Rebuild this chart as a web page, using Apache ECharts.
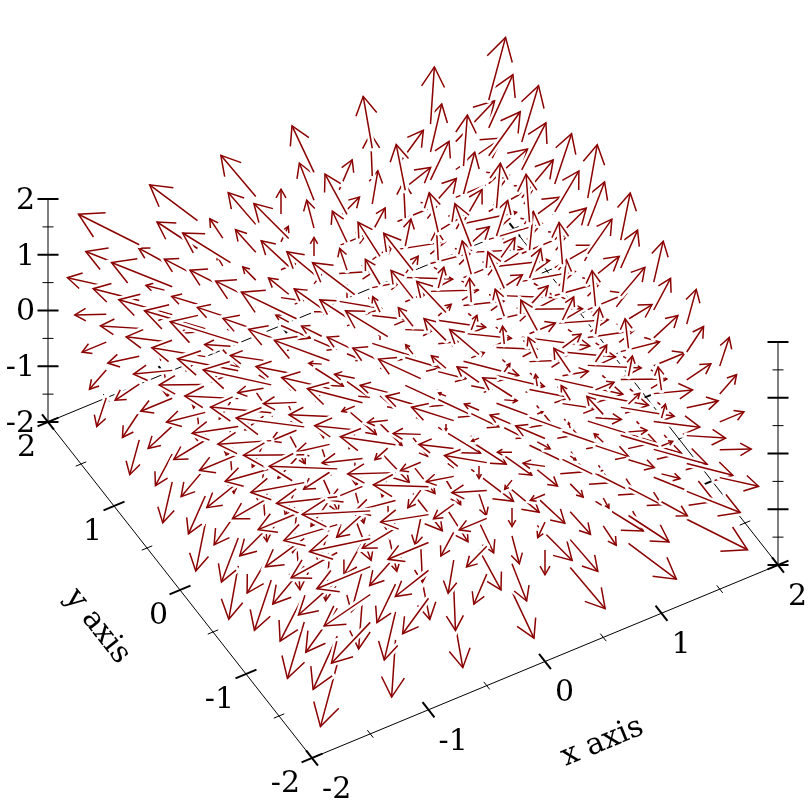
<!DOCTYPE html>
<html><head><meta charset="utf-8">
<style>html,body{margin:0;padding:0;background:#fff}#c{width:812px;height:812px}</style>
<script src="https://cdn.jsdelivr.net/npm/echarts@6/dist/echarts.min.js"></script>
</head><body><div id="c"></div>
<script>
// arrow tail planes (axis units)
const xSamples = [-1.5,-1,-0.5,0,0.5,1,1.5];
const ySamples = [-2,-1.5,-1,-0.5,0,0.5,1,1.5,2];
const zSamples = [-2,-1.5,-1,-0.5,0,0.5,1,1.5,2];
// which y/z sample pairs carry an arrow (rows: y, columns: z); the rest are absent in the picture
const presentRows = [
  '000011111',
  '011111111',
  '011111111',
  '011111111',
  '111111111',
  '111111110',
  '111111110',
  '111111110',
  '111110000'
];
// arrow extent per sample plane (axis units): dx goes with the x plane, dy with the z plane, dz with the y plane
const dxByX = [-0.333,-0.222,-0.111,0,0.111,0.222,0.333];
const dyByZ = [-0.444,-0.333,-0.222,-0.111,0,0.111,0.222,0.333,0.444];
const dzByY = [-0.444,-0.333,-0.222,-0.111,0,0.111,0.222,0.333,0.444];
const majorTicks = [-2,-1,0,1,2];
const minorTicks = [-1.5,-0.5,0.5,1.5];
const tickLabels = ['-2','-1','0','1','2'];

const basisX = [116.5,-66], basisY = [48.25,84,55.75];
const proj = (x,y,z)=>[basisX[0]*x+basisX[1]*y, basisY[0]*x+basisY[1]*y+basisY[2]*z];

const arrows = [];
xSamples.forEach((x,i)=>ySamples.forEach((y,j)=>zSamples.forEach((z,k)=>{
  if(presentRows[j][k]==='1') arrows.push([x,y,z,dxByX[i],dyByZ[k],dzByY[j]]);
})));
const depth = a=>-0.25*(a[0]+a[3]/2)-0.433*(a[1]+a[4]/2)+0.866*(a[2]+a[5]/2);
arrows.sort((a,b)=>depth(a)-depth(b));

const RED='#8b0000';
const HALO=6.5, PEN=1.5;
function renderArrow(p,api){
  const x=api.value(0),y=api.value(1),z=api.value(2),u=api.value(3),v=api.value(4),w=api.value(5);
  const a=api.coord(proj(x,y,z)), b=api.coord(proj(x+u,y+v,z+w));
  const dx=b[0]-a[0],dy=b[1]-a[1],len=Math.hypot(dx,dy);
  if(len<0.5) return {type:'group',children:[]};
  const h=0.4*len, t=Math.atan2(-dy,-dx), s=Math.PI/6;
  const b1=[b[0]+h*Math.cos(t+s),b[1]+h*Math.sin(t+s)], b2=[b[0]+h*Math.cos(t-s),b[1]+h*Math.sin(t-s)];
  const line=(pts,c,lw,cap)=>({type:'polyline',shape:{points:pts},style:{stroke:c,lineWidth:lw,fill:null,lineJoin:'miter',lineCap:cap}});
  return {type:'group',children:[
    line([a,b],'#fff',HALO,'round'),line([b1,b,b2],'#fff',HALO,'round'),
    line([a,b],RED,PEN,'butt'),line([b1,b,b2],RED,PEN,'butt')]};
}

const C=-2,D=2;
const frame=[];
const seg=(p,q,c,w)=>frame.push([...p,...q,c,w]);
seg([C,D,C],[C,D,D],'#808080',2);
seg([D,C,C],[D,C,D],'#808080',2);
seg([C,D,C],[D,D,C],'#000',1);
seg([D,C,C],[D,D,C],'#000',1);
seg([C,C,C],[D,C,C],'#000',1);
seg([C,C,C],[C,D,C],'#000',1);
const tickX=0.09, tickY=0.09;
[[majorTicks,2],[minorTicks,1]].forEach(([list,w])=>{
  const f=w===2?1:0.5;
  list.forEach(t=>{
    [C,D].forEach(y=>seg([t,y-tickY*f,C],[t,y+tickY*f,C],'#000',w));
    [C,D].forEach(x=>seg([x-tickX*f,t,C],[x+tickX*f,t,C],'#000',w));
  });
});
function renderSeg(p,api){
  const a=api.coord(proj(api.value(0),api.value(1),api.value(2)));
  const b=api.coord(proj(api.value(3),api.value(4),api.value(5)));
  return {type:'line',shape:{x1:a[0],y1:a[1],x2:b[0],y2:b[1]},style:{stroke:frame[p.dataIndex][6],lineWidth:frame[p.dataIndex][7]}};
}
const zTicks=[];
[[majorTicks,21,2],[minorTicks,11,1]].forEach(([list,len,w])=>list.forEach(t=>{
  [[C,D],[D,C]].forEach(([x,y])=>zTicks.push([x,y,t,len,w]));
}));
function renderZTick(p,api){
  const a=api.coord(proj(api.value(0),api.value(1),api.value(2)));
  const l=api.value(3)/2;
  return {type:'line',shape:{x1:a[0]-l,y1:a[1],x2:a[0]+l,y2:a[1]},style:{stroke:'#000',lineWidth:api.value(4)}};
}
const FONT='"DejaVu Serif"';
const labels=[];
majorTicks.forEach((t,i)=>{
  labels.push([t,C,C,10,32,'left',tickLabels[i]]);
  labels.push([C,t,C,-12,26,'right',tickLabels[i]]);
  labels.push([C,D,t,-13,2,'right',tickLabels[i]]);
});
function renderLabel(p,api){
  const d=labels[p.dataIndex];
  const a=api.coord(proj(d[0],d[1],d[2]));
  return {type:'text',x:a[0]+d[3],y:a[1]+d[4],style:{text:d[6],font:'30px '+FONT,fill:'#000',textAlign:d[5],textVerticalAlign:'middle'}};
}
const titles=[[-0.04,-2.94,-2,'x axis',0.39],[-2.72,-0.02,-2,'y axis',-0.9]];
function renderTitle(p,api){
  const d=titles[p.dataIndex];
  const a=api.coord(proj(d[0],d[1],d[2]));
  return {type:'text',x:a[0],y:a[1],rotation:d[4],style:{text:d[3],font:'30px '+FONT,fill:'#000',textAlign:'center',textVerticalAlign:'middle'}};
}
const chart=echarts.init(document.getElementById('c'),null,{renderer:'canvas',width:812,height:812});
const base={type:'custom',coordinateSystem:'cartesian2d',silent:true,animation:false,clip:false,progressive:0};
chart.setOption({
  animation:false,
  grid:{left:0,right:0,top:0,bottom:0},
  xAxis:{type:'value',min:-413,max:399,show:false},
  yAxis:{type:'value',min:-430,max:382,show:false},
  series:[
    {...base,data:frame.map(f=>f.slice(0,6)),renderItem:renderSeg,encode:{x:0,y:1}},
    {...base,data:zTicks,renderItem:renderZTick,encode:{x:0,y:1}},
    {...base,data:labels.map(l=>l.slice(0,3)),renderItem:renderLabel,encode:{x:0,y:1}},
    {...base,data:titles.map(l=>l.slice(0,3)),renderItem:renderTitle,encode:{x:0,y:1}},
    {...base,data:arrows,renderItem:renderArrow,encode:{x:0,y:1}}
  ]
});
</script></body></html>
